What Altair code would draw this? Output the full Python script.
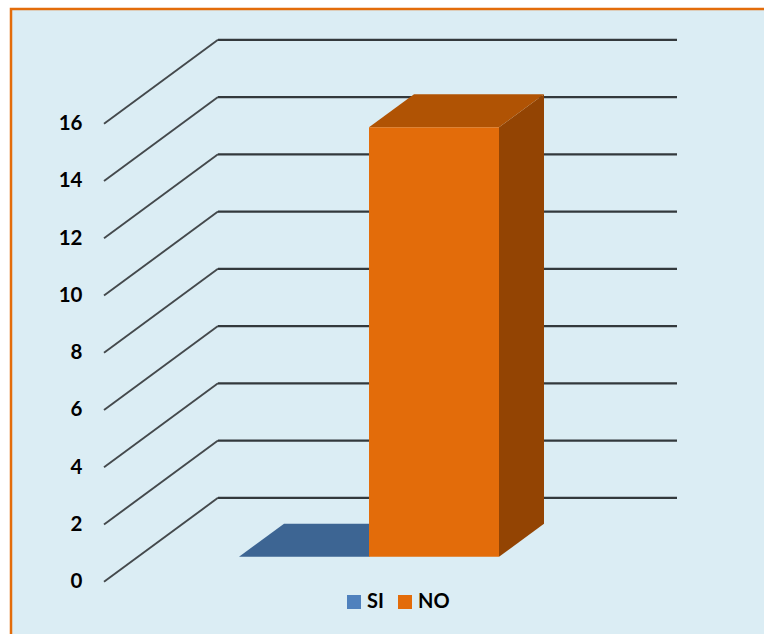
import altair as alt
import pandas as pd

# Chart values
categories = ["SI", "NO"]
values = [0, 15]
tick_values = [0, 2, 4, 6, 8, 10, 12, 14, 16]

# Colours per category: front, top, side
front_colors = ["#4F81BD", "#E36C0A"]
top_colors = ["#3D6593", "#B05304"]
side_colors = ["#3D6593", "#934403"]

# Oblique projection of the 3D box, in x units and value units
WALL_X, WALL_DX, WALL_LIFT, WALL_END = 104, 114, 2.93, 677
BAR_X = [239, 369]
BAR_W, BAR_DX, BAR_LIFT, BAR_DEPTH = 130, 45, 0.873, 1.153

x_scale = alt.Scale(domain=[0, 764], nice=False, zero=False)
y_scale = alt.Scale(domain=[-1.8265, 20.322], nice=False, zero=False)
y_axis = alt.Axis(
    orient="left", values=tick_values, offset=-82, domain=False, ticks=False,
    grid=False, title=None, labelPadding=0, labelFont="Lato", labelFontWeight="bold",
    labelFontSize=20.5, labelColor="#000000", zindex=1,
)
X = alt.X("x:Q", scale=x_scale, axis=None)
Y = alt.Y("y:Q", scale=y_scale, axis=y_axis)

panel = alt.Chart(pd.DataFrame({"a": [0]})).mark_rect(
    fill="#DBEDF4", stroke="#E36C0A", strokeWidth=2.5
).encode(x=alt.value(11), x2=alt.value(790), y=alt.value(9), y2=alt.value(660))

# Gridlines: slanted side wall, then the back wall
grid_rows = []
for t in tick_values:
    grid_rows += [
        {"tick": t, "part": "side", "x": WALL_X, "y": t},
        {"tick": t, "part": "side", "x": WALL_X + WALL_DX, "y": t + WALL_LIFT},
        {"tick": t, "part": "back", "x": WALL_X + WALL_DX, "y": t + WALL_LIFT},
        {"tick": t, "part": "back", "x": WALL_END, "y": t + WALL_LIFT},
    ]
grid = pd.DataFrame(grid_rows)

side_lines = alt.Chart(grid[grid.part == "side"]).mark_line(
    color="#44494C", strokeWidth=1.9
).encode(x=X, y=Y, detail="tick:N")
back_lines = alt.Chart(grid[grid.part == "back"]).mark_line(
    color="#33393C", strokeWidth=2.4
).encode(x=X, y=Y, detail="tick:N")

layers = [panel, side_lines, back_lines]

# Each box is a top and a side parallelogram plus a front rectangle
for cat, val, left, top_c, side_c in zip(categories, values, BAR_X, top_colors, side_colors):
    base = BAR_LIFT
    roof = val + BAR_LIFT
    back = roof + BAR_DEPTH
    right = left + BAR_W
    top_face = pd.DataFrame({
        "x": [left, left + BAR_DX, right, right + BAR_DX],
        "y": [roof, back, back, back],
        "y2": [roof, roof, roof, back],
    })
    side_face = pd.DataFrame({
        "x": [right, right + BAR_DX],
        "y": [roof, back],
        "y2": [base, base + BAR_DEPTH],
    })
    for frame, colour in ((side_face, side_c), (top_face, top_c)):
        layers.append(
            alt.Chart(frame).mark_area(color=colour, line=False, interpolate="linear").encode(
                x=X, y=Y, y2="y2:Q"
            )
        )
    layers.append(
        alt.Chart(pd.DataFrame([{
            "cat": cat, "x": left, "x2": right, "y": base, "y2": roof
        }])).mark_rect().encode(
            x=X, x2="x2:Q", y=Y, y2="y2:Q",
            color=alt.Color(
                "cat:N",
                scale=alt.Scale(domain=categories, range=front_colors),
                legend=alt.Legend(
                    orient="none", legendX=344, legendY=592, direction="horizontal",
                    title=None, symbolType="square", symbolSize=196, symbolStrokeWidth=0,
                    labelFont="Lato", labelFontWeight="bold", labelFontSize=20,
                    labelColor="#000000", labelOffset=3, columnPadding=11,
                ),
            ),
        )
    )

chart = alt.layer(*layers).properties(
    width=764, height=634, padding=0, autosize=alt.AutoSizeParams(type="none"),
    background="#FFFFFF",
).configure_view(stroke=None)

chart.save("out.html", embed_options={"renderer": "svg", "actions": False})
